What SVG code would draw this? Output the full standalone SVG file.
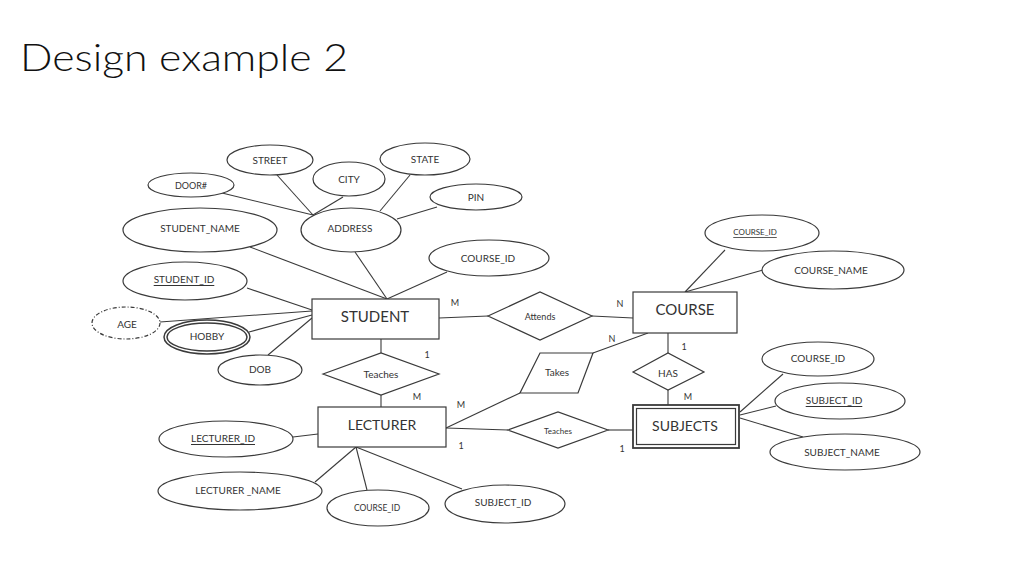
<svg xmlns="http://www.w3.org/2000/svg" width="1024" height="576" viewBox="0 0 1024 576">
<style>
.s{fill:#fff;stroke:#3a3a3a;stroke-width:1.2}
.n{fill:none;stroke:#3a3a3a;stroke-width:1.2}
.l{stroke:#3a3a3a;stroke-width:1.1;fill:none}
.t{font-family:Lato,"Liberation Sans",sans-serif;fill:#333;text-anchor:middle;dominant-baseline:central}
.a{font-size:10px}
.e{font-size:15px}
.c{font-size:10px}
.u{text-decoration:underline}
</style>
<rect width="1024" height="576" fill="#fff"/>
<text x="20" y="71" font-family="Lato,'Liberation Sans',sans-serif" font-weight="300" font-size="38" fill="#111" textLength="328" lengthAdjust="spacingAndGlyphs">Design example 2</text>
<g id="connectors">
<line class="l" x1="222" y1="193" x2="313" y2="215"/>
<line class="l" x1="277" y1="175" x2="313" y2="215"/>
<line class="l" x1="343" y1="197" x2="313" y2="215"/>
<line class="l" x1="410" y1="175" x2="380" y2="211"/>
<line class="l" x1="437" y1="207" x2="397" y2="219"/>
<line class="l" x1="355" y1="252" x2="387" y2="299"/>
<line class="l" x1="447" y1="272" x2="387" y2="299"/>
<line class="l" x1="250" y1="247" x2="387" y2="299"/>
<line class="l" x1="247" y1="288" x2="312" y2="310"/>
<line class="l" x1="160" y1="322" x2="312" y2="311"/>
<line class="l" x1="249" y1="332" x2="312" y2="315"/>
<line class="l" x1="268" y1="355" x2="312" y2="318"/>
<line class="l" x1="381" y1="339" x2="381" y2="353"/>
<line class="l" x1="381" y1="395" x2="381" y2="407"/>
<line class="l" x1="439" y1="318" x2="488" y2="316"/>
<line class="l" x1="592" y1="316" x2="633" y2="318"/>
<line class="l" x1="446" y1="428" x2="520" y2="393"/>
<line class="l" x1="593" y1="353" x2="648" y2="333"/>
<line class="l" x1="668" y1="333" x2="668" y2="353"/>
<line class="l" x1="668" y1="390" x2="668" y2="405"/>
<line class="l" x1="446" y1="428" x2="508" y2="430"/>
<line class="l" x1="608" y1="430" x2="633" y2="430"/>
<line class="l" x1="725" y1="250" x2="685" y2="292"/>
<line class="l" x1="763" y1="270" x2="685" y2="292"/>
<line class="l" x1="783" y1="374" x2="740" y2="412"/>
<line class="l" x1="776" y1="406" x2="740" y2="415"/>
<line class="l" x1="803" y1="437" x2="740" y2="418"/>
<line class="l" x1="293" y1="437" x2="318" y2="434"/>
<line class="l" x1="315" y1="482" x2="356" y2="447"/>
<line class="l" x1="367" y1="490" x2="356" y2="447"/>
<line class="l" x1="462" y1="489" x2="356" y2="447"/>
</g>
<g id="cardinalities" class="t" font-size="9">
<text x="455" y="302">M</text>
<text x="620" y="303">N</text>
<text x="427" y="354">1</text>
<text x="417" y="396">M</text>
<text x="461" y="404">M</text>
<text x="612" y="338">N</text>
<text x="684" y="346">1</text>
<text x="688" y="396">M</text>
<text x="461" y="445">1</text>
<text x="622" y="448">1</text>
</g>
<g id="street"><ellipse class="s" cx="270" cy="160" rx="43" ry="15"/><text class="t a" x="270" y="160">STREET</text></g>
<g id="door"><ellipse class="s" cx="191" cy="185" rx="43" ry="12"/><text class="t" font-size="9" x="191" y="185">DOOR#</text></g>
<g id="city"><ellipse class="s" cx="349" cy="179" rx="36" ry="17"/><text class="t a" x="349" y="179">CITY</text></g>
<g id="state"><ellipse class="s" cx="425" cy="159" rx="45" ry="16"/><text class="t a" x="425" y="159">STATE</text></g>
<g id="pin"><ellipse class="s" cx="476" cy="197" rx="46" ry="13"/><text class="t a" x="476" y="197">PIN</text></g>
<g id="address"><ellipse class="s" cx="351" cy="230" rx="50" ry="22"/><text class="t a" x="350" y="228">ADDRESS</text></g>
<g id="student_name"><ellipse class="s" cx="200" cy="230" rx="77" ry="22"/><text class="t a" x="200" y="228">STUDENT_NAME</text></g>
<g id="student_id"><ellipse class="s" cx="185" cy="281" rx="62" ry="19"/><text class="t a u" x="184" y="279">STUDENT_ID</text></g>
<g id="course_id_s"><ellipse class="s" cx="489" cy="258" rx="60" ry="18"/><text class="t a" x="488" y="258">COURSE_ID</text></g>
<g id="age"><ellipse class="s" cx="126" cy="323" rx="34" ry="16" style="stroke-dasharray:4 2 1 2"/><text class="t a" x="127" y="324">AGE</text></g>
<g id="hobby"><ellipse class="s" cx="207" cy="337" rx="43" ry="17" style="stroke-width:1.5"/><ellipse class="n" cx="207" cy="337" rx="40" ry="14" style="stroke-width:1.5"/><text class="t a" x="207" y="336">HOBBY</text></g>
<g id="dob"><ellipse class="s" cx="260" cy="370" rx="42" ry="15"/><text class="t a" x="260" y="369">DOB</text></g>
<g id="student"><rect class="s" x="312" y="299" width="127" height="40"/><text class="t e" x="375" y="316">STUDENT</text></g>
<g id="teaches1"><polygon class="s" points="323,374 381,353 439,374 381,395"/><text class="t c" x="381" y="374">Teaches</text></g>
<g id="attends"><polygon class="s" points="488,316 540,292 592,316 540,340"/><text class="t" font-size="9" x="540" y="316">Attends</text></g>
<g id="course"><rect class="s" x="633" y="292" width="104" height="41"/><text class="t e" x="685" y="309">COURSE</text></g>
<g id="takes"><polygon class="s" points="540,353 593,353 578,393 520,393"/><text class="t c" x="557" y="372">Takes</text></g>
<g id="has"><polygon class="s" points="633,372 668,353 704,372 668,390"/><text class="t c" x="668" y="373">HAS</text></g>
<g id="subjects"><rect class="s" x="633" y="405" width="106" height="43" style="stroke-width:1.8"/><rect class="n" x="636.5" y="408.5" width="99" height="36"/><text class="t" font-size="14" x="685" y="425">SUBJECTS</text></g>
<g id="course_id_c"><ellipse class="s" cx="762" cy="233" rx="57" ry="18"/><text class="t u" font-size="8" x="755" y="232">COURSE_ID</text></g>
<g id="course_name"><ellipse class="s" cx="833" cy="270" rx="71" ry="19"/><text class="t a" x="831" y="270">COURSE_NAME</text></g>
<g id="course_id_sub"><ellipse class="s" cx="818" cy="359" rx="56" ry="17"/><text class="t a" x="818" y="358">COURSE_ID</text></g>
<g id="subject_id"><ellipse class="s" cx="840" cy="401" rx="65" ry="18"/><text class="t a u" x="834" y="400">SUBJECT_ID</text></g>
<g id="subject_name"><ellipse class="s" cx="845" cy="452" rx="75" ry="18"/><text class="t a" x="842" y="452">SUBJECT_NAME</text></g>
<g id="lecturer"><rect class="s" x="318" y="407" width="128" height="40"/><text class="t" font-size="14" x="382" y="424">LECTURER</text></g>
<g id="teaches2"><polygon class="s" points="508,430 558,412 608,430 558,448"/><text class="t" font-size="8" x="558" y="431">Teaches</text></g>
<g id="lecturer_id"><ellipse class="s" cx="226" cy="439" rx="67" ry="18"/><text class="t a u" x="223" y="438">LECTURER_ID</text></g>
<g id="lecturer_name"><ellipse class="s" cx="240" cy="491" rx="82" ry="19"/><text class="t a" x="238" y="490">LECTURER _NAME</text></g>
<g id="course_id_l"><ellipse class="s" cx="378" cy="508" rx="51" ry="18"/><text class="t" font-size="8.5" x="377" y="508">COURSE_ID</text></g>
<g id="subject_id_l"><ellipse class="s" cx="505" cy="504" rx="60" ry="19"/><text class="t a" x="503" y="502">SUBJECT_ID</text></g>
</svg>
